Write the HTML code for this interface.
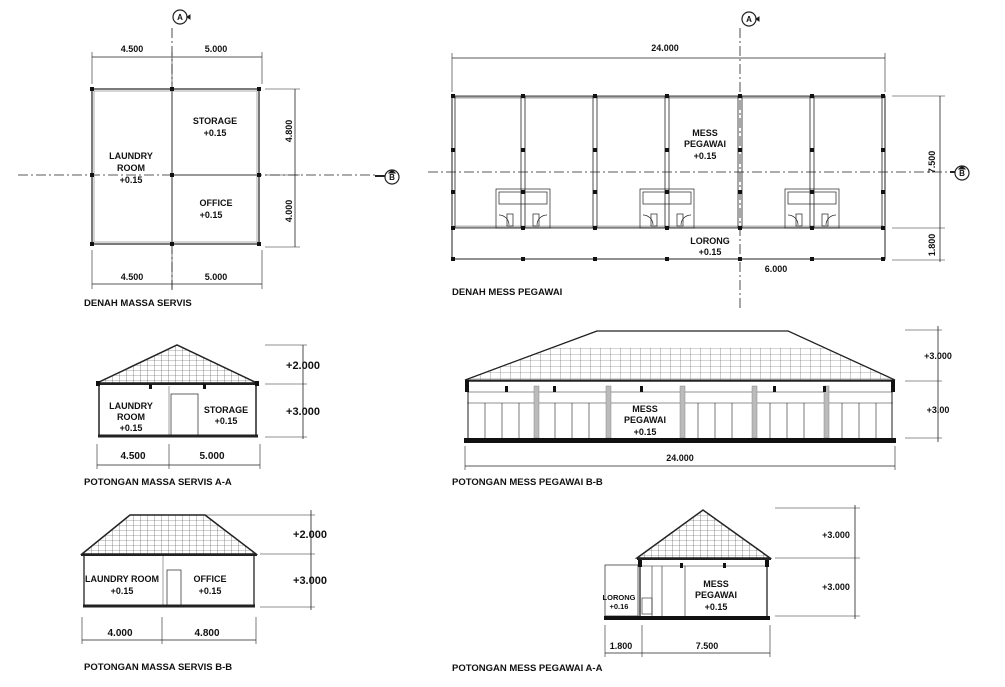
<!DOCTYPE html>
<html><head><meta charset="utf-8"><style>
html,body{margin:0;padding:0;background:#fff;}
svg{display:block;font-family:"Liberation Sans",Arial,sans-serif;}
text{font-weight:bold;fill:#111;}
</style></head><body>
<svg width="1005" height="687" viewBox="0 0 1005 687" xmlns="http://www.w3.org/2000/svg">
<defs>
<pattern id="h" width="7" height="5" patternUnits="userSpaceOnUse">
<path d="M0 0H7M0 0V5" stroke="#444" stroke-width="0.6"/>
</pattern>
<pattern id="h2" width="10" height="6" patternUnits="userSpaceOnUse">
<path d="M0 0H10M0 0V6" stroke="#555" stroke-width="0.6"/>
</pattern>
</defs>
<g stroke="#222" fill="none" stroke-width="1">

<!-- ===== DENAH MASSA SERVIS ===== -->
<line x1="172" y1="28" x2="172" y2="292" stroke-dasharray="10,3,2,3" stroke-width="0.8"/>
<line x1="18" y1="175" x2="378" y2="175" stroke-dasharray="10,3,2,3" stroke-width="0.8"/>
<rect x="92" y="89" width="167" height="155" stroke-width="1.2"/>
<rect x="94" y="91" width="163" height="151" stroke="#999" stroke-width="0.8"/>
<line x1="172" y1="89" x2="172" y2="244" stroke-width="2" stroke="#999"/>
<line x1="172" y1="175" x2="259" y2="175" stroke-width="2" stroke="#999"/>
<g fill="#111" stroke="none">
<rect x="90" y="87" width="4" height="4"/><rect x="170" y="87" width="4" height="4"/><rect x="257" y="87" width="4" height="4"/>
<rect x="90" y="173" width="4" height="4"/><rect x="170" y="173" width="4" height="4"/><rect x="257" y="173" width="4" height="4"/>
<rect x="90" y="242" width="4" height="4"/><rect x="170" y="242" width="4" height="4"/><rect x="257" y="242" width="4" height="4"/>
</g>
<line x1="92" y1="57" x2="262" y2="57" stroke-width="0.8"/>
<line x1="92" y1="52" x2="92" y2="84" stroke-width="0.6"/><line x1="172" y1="52" x2="172" y2="84" stroke-width="0.6"/><line x1="262" y1="52" x2="262" y2="84" stroke-width="0.6"/>
<line x1="92" y1="284" x2="262" y2="284" stroke-width="0.8"/>
<line x1="92" y1="250" x2="92" y2="289" stroke-width="0.6"/><line x1="172" y1="250" x2="172" y2="289" stroke-width="0.6"/><line x1="262" y1="250" x2="262" y2="289" stroke-width="0.6"/>
<line x1="295" y1="89" x2="295" y2="247" stroke-width="0.8"/>
<line x1="265" y1="89" x2="300" y2="89" stroke-width="0.6"/><line x1="265" y1="175" x2="300" y2="175" stroke-width="0.6"/><line x1="265" y1="247" x2="300" y2="247" stroke-width="0.6"/>
<circle cx="180" cy="17" r="7" fill="#fff" stroke-width="1.2"/>
<path d="M187 17 l3 -2 v4z" fill="#111"/>
<circle cx="392" cy="177" r="7" fill="#fff" stroke-width="1.2"/>
<path d="M392 170 l-3 3 h6z" fill="#111"/>
<line x1="375" y1="176" x2="385" y2="176" stroke-width="2"/>

<!-- ===== DENAH MESS PEGAWAI ===== -->
<line x1="740" y1="28" x2="740" y2="308" stroke-dasharray="10,3,2,3" stroke-width="0.8"/>
<line x1="428" y1="172" x2="952" y2="172" stroke-dasharray="10,3,2,3" stroke-width="0.8"/>
<rect x="452" y="96" width="433" height="163" stroke-width="1"/>
<line x1="452" y1="97" x2="885" y2="97" stroke-width="3" stroke="#aaa"/>
<line x1="452" y1="227" x2="885" y2="227" stroke-width="3" stroke="#bbb"/>
<line x1="452" y1="96" x2="885" y2="96" stroke-width="0.8"/>
<line x1="452" y1="228" x2="885" y2="228" stroke-width="0.8"/>
<g stroke-width="0.8">
<line x1="521" y1="96" x2="521" y2="228"/><line x1="525" y1="96" x2="525" y2="228"/>
<line x1="593" y1="96" x2="593" y2="228"/><line x1="597" y1="96" x2="597" y2="228"/>
<line x1="665" y1="96" x2="665" y2="228"/><line x1="669" y1="96" x2="669" y2="228"/>
<line x1="738" y1="96" x2="738" y2="228"/><line x1="742" y1="96" x2="742" y2="228"/>
<line x1="810" y1="96" x2="810" y2="228"/><line x1="814" y1="96" x2="814" y2="228"/>
<line x1="455" y1="96" x2="455" y2="228"/><line x1="882" y1="96" x2="882" y2="228"/>
</g>
<g stroke-width="0.7">
<rect x="496" y="189" width="54" height="39"/><rect x="499" y="192" width="48" height="12"/>
<rect x="507" y="214" width="6" height="12"/><rect x="533" y="214" width="6" height="12"/>
<path d="M499 215 a10 10 0 0 1 10 10 M547 215 a10 10 0 0 0 -10 10"/>
<rect x="640" y="189" width="54" height="39"/><rect x="643" y="192" width="48" height="12"/>
<rect x="651" y="214" width="6" height="12"/><rect x="677" y="214" width="6" height="12"/>
<path d="M643 215 a10 10 0 0 1 10 10 M691 215 a10 10 0 0 0 -10 10"/>
<rect x="785" y="189" width="54" height="39"/><rect x="788" y="192" width="48" height="12"/>
<rect x="796" y="214" width="6" height="12"/><rect x="822" y="214" width="6" height="12"/>
<path d="M788 215 a10 10 0 0 1 10 10 M836 215 a10 10 0 0 0 -10 10"/>
</g>
<g fill="#111" stroke="none">
<rect x="451" y="94" width="4" height="4"/><rect x="521" y="94" width="4" height="4"/><rect x="593" y="94" width="4" height="4"/><rect x="665" y="94" width="4" height="4"/><rect x="738" y="94" width="4" height="4"/><rect x="810" y="94" width="4" height="4"/><rect x="881" y="94" width="4" height="4"/>
<rect x="451" y="148" width="4" height="4"/><rect x="521" y="148" width="4" height="4"/><rect x="593" y="148" width="4" height="4"/><rect x="665" y="148" width="4" height="4"/><rect x="738" y="148" width="4" height="4"/><rect x="810" y="148" width="4" height="4"/><rect x="881" y="148" width="4" height="4"/>
<rect x="451" y="190" width="4" height="4"/><rect x="521" y="190" width="4" height="4"/><rect x="593" y="190" width="4" height="4"/><rect x="665" y="190" width="4" height="4"/><rect x="738" y="190" width="4" height="4"/><rect x="810" y="190" width="4" height="4"/><rect x="881" y="190" width="4" height="4"/>
<rect x="451" y="226" width="4" height="4"/><rect x="521" y="226" width="4" height="4"/><rect x="593" y="226" width="4" height="4"/><rect x="665" y="226" width="4" height="4"/><rect x="738" y="226" width="4" height="4"/><rect x="810" y="226" width="4" height="4"/><rect x="881" y="226" width="4" height="4"/>
<rect x="451" y="257" width="4" height="4"/><rect x="521" y="257" width="4" height="4"/><rect x="593" y="257" width="4" height="4"/><rect x="665" y="257" width="4" height="4"/><rect x="738" y="257" width="4" height="4"/><rect x="810" y="257" width="4" height="4"/><rect x="881" y="257" width="4" height="4"/>
</g>
<line x1="452" y1="58" x2="885" y2="58" stroke-width="0.8"/>
<line x1="452" y1="53" x2="452" y2="92" stroke-width="0.6"/><line x1="885" y1="53" x2="885" y2="92" stroke-width="0.6"/>
<line x1="940" y1="96" x2="940" y2="262" stroke-width="0.8"/>
<line x1="892" y1="96" x2="945" y2="96" stroke-width="0.6"/><line x1="892" y1="228" x2="945" y2="228" stroke-width="0.6"/><line x1="892" y1="260" x2="945" y2="260" stroke-width="0.6"/>
<circle cx="749" cy="19" r="7" fill="#fff" stroke-width="1.2"/>
<path d="M756 19 l3 -2 v4z" fill="#111"/>
<circle cx="962" cy="173" r="7" fill="#fff" stroke-width="1.2"/>
<path d="M962 166 l-3 3 h6z" fill="#111"/>
<line x1="950" y1="172" x2="955" y2="172" stroke-width="2"/>

<!-- ===== POTONGAN MASSA SERVIS A-A ===== -->
<polygon points="97,383 177,345 257,383" fill="url(#h)" stroke-width="1.5"/>
<line x1="96" y1="384" x2="259" y2="384" stroke-width="2"/>
<line x1="99" y1="385" x2="99" y2="436" stroke-width="1.5"/><line x1="256" y1="385" x2="256" y2="436" stroke-width="1.5"/>
<line x1="169" y1="386" x2="169" y2="436" stroke="#888" stroke-width="0.8"/>
<rect x="171" y="394" width="27" height="42" stroke-width="0.7"/>
<line x1="98" y1="436" x2="258" y2="436" stroke-width="3"/>
<g fill="#111" stroke="none"><rect x="149" y="384" width="3" height="5"/><rect x="203" y="384" width="3" height="5"/><rect x="96" y="381" width="4" height="5"/><rect x="255" y="381" width="4" height="5"/></g>
<line x1="303" y1="345" x2="303" y2="439" stroke-width="0.8"/>
<line x1="265" y1="345" x2="307" y2="345" stroke-width="0.6"/><line x1="265" y1="384" x2="307" y2="384" stroke-width="0.6"/><line x1="265" y1="437" x2="307" y2="437" stroke-width="0.6"/>
<line x1="97" y1="465" x2="260" y2="465" stroke-width="0.8"/>
<line x1="97" y1="444" x2="97" y2="469" stroke-width="0.6"/><line x1="169" y1="444" x2="169" y2="469" stroke-width="0.6"/><line x1="260" y1="444" x2="260" y2="469" stroke-width="0.6"/>

<!-- ===== POTONGAN MASSA SERVIS B-B ===== -->
<polygon points="82,554 130,515 205,515 256,554" fill="url(#h)" stroke-width="1.5"/>
<line x1="81" y1="555" x2="257" y2="555" stroke-width="2"/>
<line x1="84" y1="556" x2="84" y2="606" stroke-width="1.3"/><line x1="254" y1="556" x2="254" y2="606" stroke-width="1.3"/>
<line x1="163" y1="556" x2="163" y2="606" stroke="#888" stroke-width="0.8"/>
<rect x="167" y="570" width="14" height="36" stroke-width="0.7"/>
<line x1="83" y1="606" x2="255" y2="606" stroke-width="3"/>
<line x1="205" y1="515" x2="315" y2="515" stroke-width="0.6"/><line x1="260" y1="554" x2="315" y2="554" stroke-width="0.6"/><line x1="260" y1="607" x2="315" y2="607" stroke-width="0.6"/>
<line x1="311" y1="510" x2="311" y2="610" stroke-width="0.8"/>
<line x1="82" y1="640" x2="256" y2="640" stroke-width="0.8"/>
<line x1="82" y1="617" x2="82" y2="644" stroke-width="0.6"/><line x1="162" y1="617" x2="162" y2="644" stroke-width="0.6"/><line x1="256" y1="617" x2="256" y2="644" stroke-width="0.6"/>

<!-- ===== POTONGAN MESS PEGAWAI B-B ===== -->
<polygon points="465,380 597,331 788,331 895,380" fill="#fff" stroke-width="1"/>
<polygon points="465,380 551,348 825,348 895,380" fill="url(#h2)" stroke="none"/>
<polyline points="465,380 597,331 788,331 895,380" stroke-width="1.2"/>
<line x1="465" y1="381" x2="895" y2="381" stroke-width="1.5"/>
<line x1="467" y1="392" x2="893" y2="392" stroke-width="0.6"/>
<line x1="467" y1="403" x2="893" y2="403" stroke-width="0.6"/>
<line x1="468" y1="381" x2="468" y2="438" stroke-width="1"/><line x1="892" y1="381" x2="892" y2="438" stroke-width="1"/>
<g stroke-width="0.6">
<line x1="485" y1="403" x2="485" y2="438"/><line x1="502" y1="403" x2="502" y2="438"/><line x1="519" y1="403" x2="519" y2="438"/>
<line x1="555" y1="403" x2="555" y2="438"/><line x1="572" y1="403" x2="572" y2="438"/><line x1="589" y1="403" x2="589" y2="438"/>
<line x1="698" y1="403" x2="698" y2="438"/><line x1="715" y1="403" x2="715" y2="438"/><line x1="732" y1="403" x2="732" y2="438"/>
<line x1="770" y1="403" x2="770" y2="438"/><line x1="787" y1="403" x2="787" y2="438"/><line x1="804" y1="403" x2="804" y2="438"/>
<line x1="842" y1="403" x2="842" y2="438"/><line x1="859" y1="403" x2="859" y2="438"/><line x1="876" y1="403" x2="876" y2="438"/>
</g>
<g fill="#bbb" stroke="#888" stroke-width="0.5">
<rect x="534" y="386" width="5" height="52"/><rect x="606" y="386" width="5" height="52"/><rect x="680" y="386" width="5" height="52"/><rect x="752" y="386" width="5" height="52"/><rect x="824" y="386" width="5" height="52"/>
</g>
<g fill="#111" stroke="none">
<rect x="465" y="380" width="4" height="12"/><rect x="891" y="380" width="4" height="12"/>
<rect x="505" y="386" width="3" height="6"/><rect x="553" y="386" width="3" height="6"/><rect x="640" y="386" width="3" height="6"/><rect x="773" y="386" width="3" height="6"/><rect x="823" y="386" width="3" height="6"/>
<rect x="464" y="438" width="432" height="5"/>
</g>
<line x1="905" y1="330" x2="942" y2="330" stroke-width="0.6"/><line x1="905" y1="381" x2="942" y2="381" stroke-width="0.6"/><line x1="905" y1="438" x2="942" y2="438" stroke-width="0.6"/>
<line x1="938" y1="326" x2="938" y2="442" stroke-width="0.8"/>
<line x1="465" y1="466" x2="895" y2="466" stroke-width="0.8"/>
<line x1="465" y1="446" x2="465" y2="470" stroke-width="0.6"/><line x1="895" y1="446" x2="895" y2="470" stroke-width="0.6"/>

<!-- ===== POTONGAN MESS PEGAWAI A-A ===== -->
<polygon points="637,558 703,510 770,558" fill="url(#h)" stroke-width="1.5"/>
<line x1="637" y1="559" x2="771" y2="559" stroke-width="2"/>
<line x1="639" y1="566" x2="768" y2="566" stroke-width="0.6"/>
<line x1="640" y1="560" x2="640" y2="616" stroke-width="1.3"/><line x1="767" y1="560" x2="767" y2="616" stroke-width="1.3"/>
<rect x="605" y="565" width="33" height="51" stroke-width="0.7"/>
<line x1="652" y1="566" x2="652" y2="616" stroke-width="0.6"/><line x1="662" y1="566" x2="662" y2="616" stroke-width="0.6"/><line x1="685" y1="566" x2="685" y2="616" stroke-width="0.6"/>
<rect x="642" y="598" width="10" height="16" stroke-width="0.6"/>
<g fill="#111" stroke="none">
<rect x="638" y="560" width="4" height="7"/><rect x="765" y="560" width="4" height="7"/>
<rect x="680" y="563" width="3" height="5"/><rect x="723" y="563" width="3" height="5"/>
<rect x="604" y="616" width="166" height="4"/>
</g>
<line x1="775" y1="508" x2="860" y2="508" stroke-width="0.6"/><line x1="775" y1="558" x2="860" y2="558" stroke-width="0.6"/><line x1="775" y1="616" x2="860" y2="616" stroke-width="0.6"/>
<line x1="855" y1="505" x2="855" y2="619" stroke-width="0.8"/>
<line x1="605" y1="653" x2="770" y2="653" stroke-width="0.8"/>
<line x1="605" y1="625" x2="605" y2="657" stroke-width="0.6"/><line x1="642" y1="625" x2="642" y2="657" stroke-width="0.6"/><line x1="770" y1="625" x2="770" y2="657" stroke-width="0.6"/>
</g>

<g font-size="9" text-anchor="middle">
<text x="180" y="20" font-size="8">A</text>
<text x="392" y="180" font-size="8">B</text>
<text x="749" y="22" font-size="8">A</text>
<text x="962" y="176" font-size="8">B</text>

<text x="132" y="52">4.500</text><text x="216" y="52">5.000</text>
<text x="132" y="280">4.500</text><text x="216" y="280">5.000</text>
<text transform="translate(292,131) rotate(-90)">4.800</text>
<text transform="translate(292,211) rotate(-90)">4.000</text>
<text x="215" y="124">STORAGE</text><text x="215" y="136">+0.15</text>
<text x="131" y="159">LAUNDRY</text><text x="131" y="171">ROOM</text><text x="131" y="183">+0.15</text>
<text x="216" y="206">OFFICE</text><text x="211" y="218">+0.15</text>

<text x="665" y="51">24.000</text>
<text x="705" y="136">MESS</text><text x="705" y="147">PEGAWAI</text><text x="705" y="159">+0.15</text>
<text x="710" y="244">LORONG</text><text x="710" y="255">+0.15</text>
<text x="776" y="272">6.000</text>
<text transform="translate(935,162) rotate(-90)">7.500</text>
<text transform="translate(935,245) rotate(-90)">1.800</text>

<text x="131" y="409">LAUNDRY</text><text x="131" y="420">ROOM</text><text x="131" y="431">+0.15</text>
<text x="226" y="413">STORAGE</text><text x="226" y="424">+0.15</text>
<text x="303" y="369" font-size="11">+2.000</text><text x="303" y="415" font-size="11">+3.000</text>
<text x="133" y="459" font-size="10">4.500</text><text x="212" y="459" font-size="10">5.000</text>

<text x="122" y="582">LAUNDRY ROOM</text><text x="122" y="594">+0.15</text>
<text x="210" y="582">OFFICE</text><text x="210" y="594">+0.15</text>
<text x="310" y="538" font-size="11">+2.000</text><text x="310" y="584" font-size="11">+3.000</text>
<text x="120" y="636" font-size="10">4.000</text><text x="207" y="636" font-size="10">4.800</text>

<text x="645" y="412">MESS</text><text x="645" y="423">PEGAWAI</text><text x="645" y="435">+0.15</text>
<text x="938" y="359" font-size="9">+3.000</text><text x="938" y="413" font-size="9">+3.00</text>
<text x="680" y="461">24.000</text>

<text x="619" y="600" font-size="7.5" font-weight="normal">LORONG</text><text x="619" y="609" font-size="7.5" font-weight="normal">+0.16</text>
<text x="716" y="587">MESS</text><text x="716" y="598">PEGAWAI</text><text x="716" y="610">+0.15</text>
<text x="836" y="538" font-size="9">+3.000</text><text x="836" y="590" font-size="9">+3.000</text>
<text x="621" y="649">1.800</text><text x="707" y="649">7.500</text>
</g>
<g font-size="9.5" text-anchor="start">
<text x="84" y="306">DENAH MASSA SERVIS</text>
<text x="452" y="295">DENAH MESS PEGAWAI</text>
<text x="84" y="485">POTONGAN MASSA SERVIS A-A</text>
<text x="452" y="485">POTONGAN MESS PEGAWAI B-B</text>
<text x="84" y="670">POTONGAN MASSA SERVIS B-B</text>
<text x="452" y="671">POTONGAN MESS PEGAWAI A-A</text>
</g>
</svg>
</body></html>
